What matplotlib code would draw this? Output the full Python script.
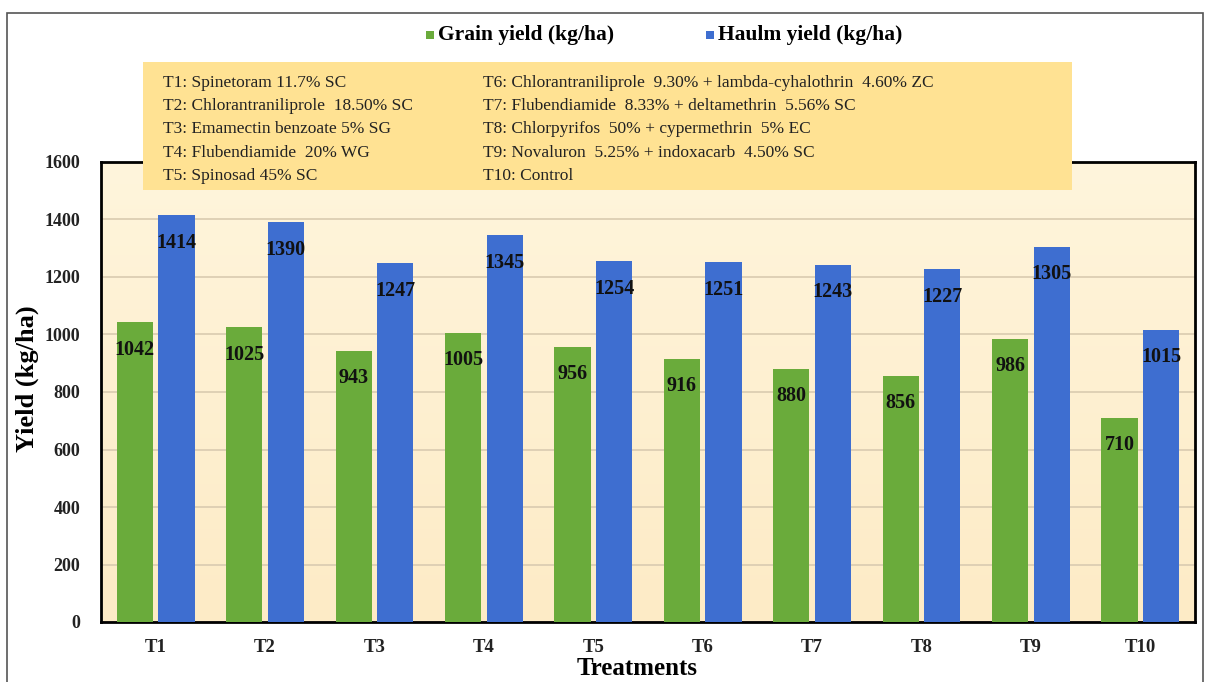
import numpy as np
import matplotlib
matplotlib.use('Agg')
import matplotlib.pyplot as plt
from matplotlib.patches import Rectangle

treatments = ['T1', 'T2', 'T3', 'T4', 'T5', 'T6', 'T7', 'T8', 'T9', 'T10']
grain_yield = [1042, 1025, 943, 1005, 956, 916, 880, 856, 986, 710]
haulm_yield = [1414, 1390, 1247, 1345, 1254, 1251, 1243, 1227, 1305, 1015]
yticks = [0, 200, 400, 600, 800, 1000, 1200, 1400, 1600]

key_left = ['T1: Spinetoram 11.7% SC',
            'T2: Chlorantraniliprole  18.50% SC',
            'T3: Emamectin benzoate 5% SG',
            'T4: Flubendiamide  20% WG',
            'T5: Spinosad 45% SC']
key_right = ['T6: Chlorantraniliprole  9.30% + lambda-cyhalothrin  4.60% ZC',
             'T7: Flubendiamide  8.33% + deltamethrin  5.56% SC',
             'T8: Chlorpyrifos  50% + cypermethrin  5% EC',
             'T9: Novaluron  5.25% + indoxacarb  4.50% SC',
             'T10: Control']

plt.rcParams['font.family'] = ['Liberation Serif', 'DejaVu Serif']

W, H = 1206, 682
fig = plt.figure(figsize=(W / 100, H / 100), dpi=100)
ax = fig.add_axes([101 / W, 1 - 622 / H, (1195 - 101) / W, (622 - 162) / H])

# outer frame
fig.patches.append(Rectangle((7 / W, -0.05), (1203 - 7) / W, 1 - 13 / H + 0.05,
                             transform=fig.transFigure, fill=False,
                             edgecolor='#555555', linewidth=1.2))

# plot area gradient
grad = np.linspace(0, 1, 256).reshape(-1, 1)
cmap = matplotlib.colors.LinearSegmentedColormap.from_list('bg', ['#FDEBC6', '#FFF5DC'])
ax.imshow(grad, extent=[0, 1, 0, 1], transform=ax.transAxes, cmap=cmap,
          aspect='auto', origin='lower', zorder=0)

x = np.arange(len(treatments))
w = 0.33
off = 0.19
ax.bar(x - off, grain_yield, w, color='#6AAB3B', zorder=3)
ax.bar(x + off, haulm_yield, w, color='#3E6ED0', zorder=3)

for xi, g, h in zip(x, grain_yield, haulm_yield):
    ax.text(xi - off, g - 95, str(g), ha='center', va='center',
            fontsize=14.5, fontweight='bold', color='#111111', zorder=4)
    ax.text(xi + off, h - 95, str(h), ha='center', va='center',
            fontsize=14.5, fontweight='bold', color='#111111', zorder=4)

ax.set_xlim(-0.5, len(treatments) - 0.5)
ax.set_ylim(0, 1600)
ax.set_yticks(yticks)
ax.set_xticks(x)
ax.set_xticklabels(treatments)
ax.yaxis.grid(True, color='#D9CBB0', linewidth=1.2, zorder=1)
ax.set_axisbelow(True)
ax.tick_params(axis='y', length=0, labelsize=13, pad=15)
ax.tick_params(axis='x', length=0, labelsize=13.5, pad=12)
for lab in ax.get_xticklabels() + ax.get_yticklabels():
    lab.set_fontweight('bold')
    lab.set_color('#222222')
for s in ax.spines.values():
    s.set_linewidth(2)
    s.set_color('black')

ax.set_ylabel('Yield (kg/ha)', fontsize=19, fontweight='bold')
ax.yaxis.set_label_coords(-0.057, 0.53)
ax.set_xlabel('Treatments', fontsize=18, fontweight='bold')
ax.xaxis.set_label_coords(0.49, -0.076)

# treatment key box
fig.patches.append(Rectangle((143 / W, 1 - 190 / H), (1072 - 143) / W, (190 - 62) / H,
                             transform=fig.transFigure, facecolor='#FFE293',
                             edgecolor='none', zorder=5))
for i, (a, b) in enumerate(zip(key_left, key_right)):
    yy = 1 - (83 + i * 23.2) / H
    fig.text(163 / W, yy, a, fontsize=12.5, va='center', ha='left', zorder=6, color='#222222')
    fig.text(483 / W, yy, b, fontsize=12.5, va='center', ha='left', zorder=6, color='#222222')

# legend
leg_y = 1 - 35 / H
fig.patches.append(Rectangle((426 / W, leg_y - 4 / H), 8 / W, 8 / H,
                             transform=fig.transFigure, facecolor='#6AAB3B', edgecolor='none'))
fig.text(438 / W, leg_y, 'Grain yield (kg/ha)', fontsize=15.5, fontweight='bold',
         va='center', ha='left')
fig.patches.append(Rectangle((706 / W, leg_y - 4 / H), 8 / W, 8 / H,
                             transform=fig.transFigure, facecolor='#3E6ED0', edgecolor='none'))
fig.text(718 / W, leg_y, 'Haulm yield (kg/ha)', fontsize=15.5, fontweight='bold',
         va='center', ha='left')

fig.savefig('out.png', dpi=100)
